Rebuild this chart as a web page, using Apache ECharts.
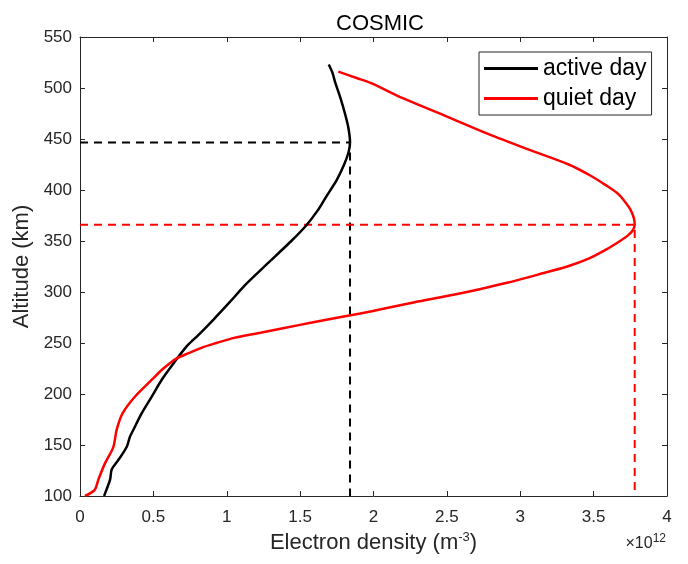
<!DOCTYPE html>
<html>
<head>
<meta charset="utf-8">
<script src="https://cdn.jsdelivr.net/npm/echarts@6/dist/echarts.min.js"></script>
<style>
html,body{margin:0;padding:0;background:#fff;}
#chart{width:688px;height:564px;}
</style>
</head>
<body>
<div id="chart"></div>
<script>
// Active day profile (altitude km, electron density x1e12 m^-3)
var activeAlt = [100, 106, 116, 126, 135, 148, 158, 165, 181, 197.5, 214, 230, 247, 258, 273, 290, 306, 320, 335, 350, 365, 380, 394, 410, 425, 437, 446.5, 460, 472.6, 490, 505, 515, 523];
var activeNe = [0.164, 0.18, 0.205, 0.216, 0.26, 0.318, 0.34, 0.364, 0.42, 0.489, 0.557, 0.637, 0.728, 0.808, 0.91, 1.02, 1.12, 1.22, 1.33, 1.44, 1.54, 1.62, 1.68, 1.75, 1.80, 1.83, 1.84, 1.83, 1.81, 1.775, 1.74, 1.72, 1.695];
// Quiet day profile
var quietAlt = [100, 106, 116, 132, 148, 165, 181, 197.5, 214, 224, 230, 235, 240, 246, 250, 255, 260, 265, 270, 275, 279, 283, 290, 296, 302, 309, 317, 325, 333, 342, 350, 355, 360, 366, 372, 381, 391, 397, 405, 414, 425, 440, 455, 472, 490, 505, 510, 516];
var quietNe = [0.034, 0.10, 0.125, 0.17, 0.227, 0.25, 0.29, 0.375, 0.49, 0.56, 0.61, 0.66, 0.74, 0.84, 0.93, 1.05, 1.23, 1.40, 1.58, 1.76, 1.91, 2.05, 2.28, 2.50, 2.70, 2.91, 3.12, 3.32, 3.47, 3.59, 3.68, 3.73, 3.765, 3.78, 3.775, 3.75, 3.70, 3.66, 3.58, 3.48, 3.33, 3.05, 2.78, 2.50, 2.20, 1.98, 1.88, 1.76];
// Peak markers
var activePeak = [1.84, 446.5];
var quietPeak = [3.78, 366];
var xTicks = [0, 0.5, 1, 1.5, 2, 2.5, 3, 3.5, 4];
var yTicks = [100, 150, 200, 250, 300, 350, 400, 450, 500, 550];
var seriesNames = ['active day', 'quiet day'];

function pairs(xs, ys) { return xs.map(function (x, i) { return [x, ys[i]]; }); }

var chart = echarts.init(document.getElementById('chart'));
var FONT = '"Liberation Sans", Arial, sans-serif';
var axisColor = '#262626';
var xMin = xTicks[0], xMax = xTicks[xTicks.length - 1];
var yMin = yTicks[0], yMax = yTicks[yTicks.length - 1];

function xAx(pos, show) {
  return {
    type: 'value', position: pos, min: xMin, max: xMax, interval: 0.5,
    axisLine: { show: true, onZero: false, lineStyle: { color: axisColor, width: 1 } },
    axisTick: { show: true, inside: true, length: 5, lineStyle: { color: axisColor } },
    splitLine: { show: false },
    axisLabel: { show: show, color: axisColor, fontSize: 17, fontFamily: FONT, margin: 13 },
    name: show ? 'Electron density (m{sup|-3})' : '',
    nameLocation: 'middle', nameGap: 33,
    nameTextStyle: { color: axisColor, fontSize: 22, fontFamily: FONT,
      rich: { sup: { fontSize: 13, verticalAlign: 'top', padding: [0, 0, 12, 0], color: axisColor, fontFamily: FONT } } }
  };
}
function yAx(pos, show) {
  return {
    type: 'value', position: pos, min: yMin, max: yMax, interval: 50,
    axisLine: { show: true, onZero: false, lineStyle: { color: axisColor, width: 1 } },
    axisTick: { show: true, inside: true, length: 5, lineStyle: { color: axisColor } },
    splitLine: { show: false },
    axisLabel: { show: show, color: axisColor, fontSize: 17, fontFamily: FONT, margin: 8 },
    name: show ? 'Altitude (km)' : '',
    nameLocation: 'middle', nameGap: 35, nameRotate: 90,
    nameTextStyle: { color: axisColor, fontSize: 22, fontFamily: FONT }
  };
}

var option = {
  backgroundColor: '#fff',
  animation: false,
  title: {
    text: 'COSMIC', left: 375, top: 8, textAlign: 'center',
    textStyle: { fontSize: 22, fontWeight: 'normal', color: '#000', fontFamily: FONT }
  },
  grid: { left: 80, right: 21, top: 37, bottom: 68 },
  xAxis: [xAx('bottom', true), xAx('top', false)],
  yAxis: [yAx('left', true), yAx('right', false)],
  legend: {
    data: seriesNames,
    orient: 'vertical', left: 479, top: 52,
    padding: [5, 5, 5, 5], itemGap: 7,
    itemWidth: 54, itemHeight: 3, icon: 'rect',
    backgroundColor: '#fff', borderColor: axisColor, borderWidth: 1,
    textStyle: { fontSize: 23, color: '#000', fontFamily: FONT, padding: [0, 0, 0, 0] }
  },
  graphic: [{
    type: 'text', right: 22, top: 533,
    style: { text: '×10{s|12}', fill: axisColor, font: '16px ' + FONT,
      rich: { s: { fontSize: 12, verticalAlign: 'top', padding: [0, 0, 9, 0], fill: axisColor } } }
  }],
  series: [
    { name: seriesNames[0], type: 'line', data: pairs(activeNe, activeAlt), showSymbol: false, smooth: 0.3,
      lineStyle: { color: '#000', width: 2.5 }, itemStyle: { color: '#000' }, z: 5 },
    { name: seriesNames[1], type: 'line', data: pairs(quietNe, quietAlt), showSymbol: false, smooth: 0.3,
      lineStyle: { color: '#ff0000', width: 2.5 }, itemStyle: { color: '#ff0000' }, z: 5 },
    { name: 'activeGuide', type: 'line', showSymbol: false, silent: true,
      data: [[xMin, activePeak[1]], [activePeak[0], activePeak[1]], [activePeak[0], yMin]],
      lineStyle: { color: '#000', width: 2, type: [8, 6] }, z: 3 },
    { name: 'quietGuide', type: 'line', showSymbol: false, silent: true,
      data: [[xMin, quietPeak[1]], [quietPeak[0], quietPeak[1]], [quietPeak[0], yMin]],
      lineStyle: { color: '#ff0000', width: 2, type: [8, 6] }, z: 3 }
  ]
};
chart.setOption(option);
</script>
</body>
</html>
